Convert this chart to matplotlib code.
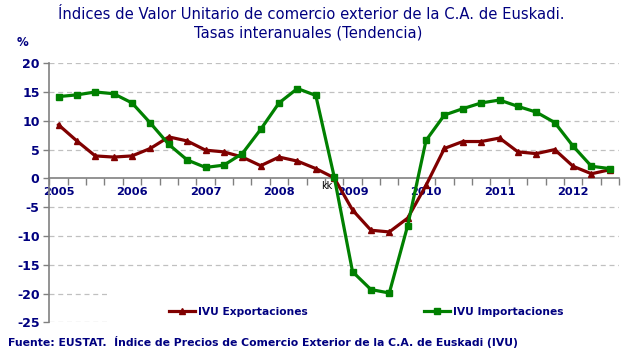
import matplotlib
matplotlib.use("Agg")
import matplotlib.pyplot as plt
import numpy as np
from matplotlib.lines import Line2D
from matplotlib.patches import Rectangle

years = ["2005", "2006", "2007", "2008", "2009", "2010", "2011", "2012"]
exportaciones = [9.3, 6.5, 3.9, 3.7, 3.9, 5.2, 7.2, 6.5, 4.9, 4.6, 3.7, 2.2,
                 3.7, 3.0, 1.7, 0.1, -5.5, -9.0, -9.3, -6.9, -1.2, 5.2, 6.4,
                 6.4, 7.0, 4.6, 4.3, 5.0, 2.1, 0.8, 1.5]
importaciones = [14.2, 14.5, 15.0, 14.7, 13.1, 9.6, 5.9, 3.2, 1.9, 2.3, 4.3, 8.5,
                 13.1, 15.6, 14.4, 0.3, -16.2, -19.3, -19.9, -8.2, 6.6, 11.0,
                 12.1, 13.1, 13.6, 12.5, 11.5, 9.7, 5.6, 2.1, 1.7]
yticks = [20, 15, 10, 5, 0, -5, -10, -15, -20, -25]

navy = "#000080"
red = "#800000"
green = "#008000"

W, H = 643, 357
fig = plt.figure(figsize=(6.43, 3.57), dpi=100)
ax = fig.add_axes([0.0767, 0.097, 0.886, 0.726])

x = np.arange(len(exportaciones))
ax.set_xlim(-0.5, len(x) - 0.5)
ax.set_ylim(-25, 20)

for yv in yticks:
    if yv != 0:
        ax.axhline(yv, color="#c0c0c0", lw=0.9, ls=(0, (4, 3)), zorder=0)

# white legend area covering the lower gridlines
ax.add_patch(Rectangle((109 / W, 1 - 332 / H), (622 - 109) / W, (332 - 291) / H,
                       transform=fig.transFigure, facecolor="white",
                       edgecolor="none", zorder=1, clip_on=False))

ax.plot(x, exportaciones, color=red, lw=2.3, marker="^", ms=5, zorder=3)
ax.plot(x, importaciones, color=green, lw=2.3, marker="s", ms=4.5, zorder=3)

for s in ["top", "right"]:
    ax.spines[s].set_visible(False)
ax.spines["bottom"].set_position(("data", 0))
ax.spines["left"].set_color("#808080")
ax.spines["bottom"].set_color("#808080")
ax.spines["left"].set_linewidth(1.2)
ax.spines["bottom"].set_linewidth(1.2)
ax.spines["bottom"].set_zorder(2)

ax.set_yticks(yticks)
ax.set_yticklabels([str(v) for v in yticks])
ax.tick_params(axis="y", colors="#808080", length=4, width=1, labelcolor=navy,
               labelsize=9, pad=3)
for lab in ax.get_yticklabels():
    lab.set_fontweight("bold")

ax.set_xticks(np.arange(-0.5, len(x) + 0.5, 1), minor=True)
ax.set_xticks(np.arange(0, len(x), 4))
ax.set_xticklabels(years)
ax.tick_params(axis="x", which="minor", length=5, width=1, colors="#808080", direction="out")
ax.tick_params(axis="x", which="major", length=0, labelcolor=navy, labelsize=8.2, pad=6)
for lab in ax.get_xticklabels():
    lab.set_fontweight("bold")

ax.text(14.6, -1.4, "kk", fontsize=7, color="black", ha="center", va="center")

fig.text(0.484, 0.958, "Índices de Valor Unitario de comercio exterior de la C.A. de Euskadi.",
         ha="center", va="center", color=navy, fontsize=10.6)
fig.text(0.48, 0.908, "Tasas interanuales (Tendencia)", ha="center", va="center",
         color=navy, fontsize=10.6)
fig.text(0.035, 0.882, "%", ha="center", va="center", color=navy, fontsize=8.5,
         fontweight="bold")
fig.text(0.012, 0.042, "Fuente: EUSTAT.  Índice de Precios de Comercio Exterior de la C.A. de Euskadi (IVU)",
         ha="left", va="center", color=navy, fontsize=7.8, fontweight="bold")

handles = [Line2D([], [], color=red, lw=2.3, marker="^", ms=4.5),
           Line2D([], [], color=green, lw=2.3, marker="s", ms=4)]
leg = fig.legend(handles, ["IVU Exportaciones", "IVU Importaciones"], ncol=2,
                 loc="center left", bbox_to_anchor=(169 / W, 1 - 312 / H), frameon=False,
                 prop={"weight": "bold", "size": 7.7}, handlelength=2.45,
                 handletextpad=0.25, columnspacing=10.9, borderpad=0, borderaxespad=0)
for t in leg.get_texts():
    t.set_color(navy)

fig.savefig("out.png", dpi=100)
